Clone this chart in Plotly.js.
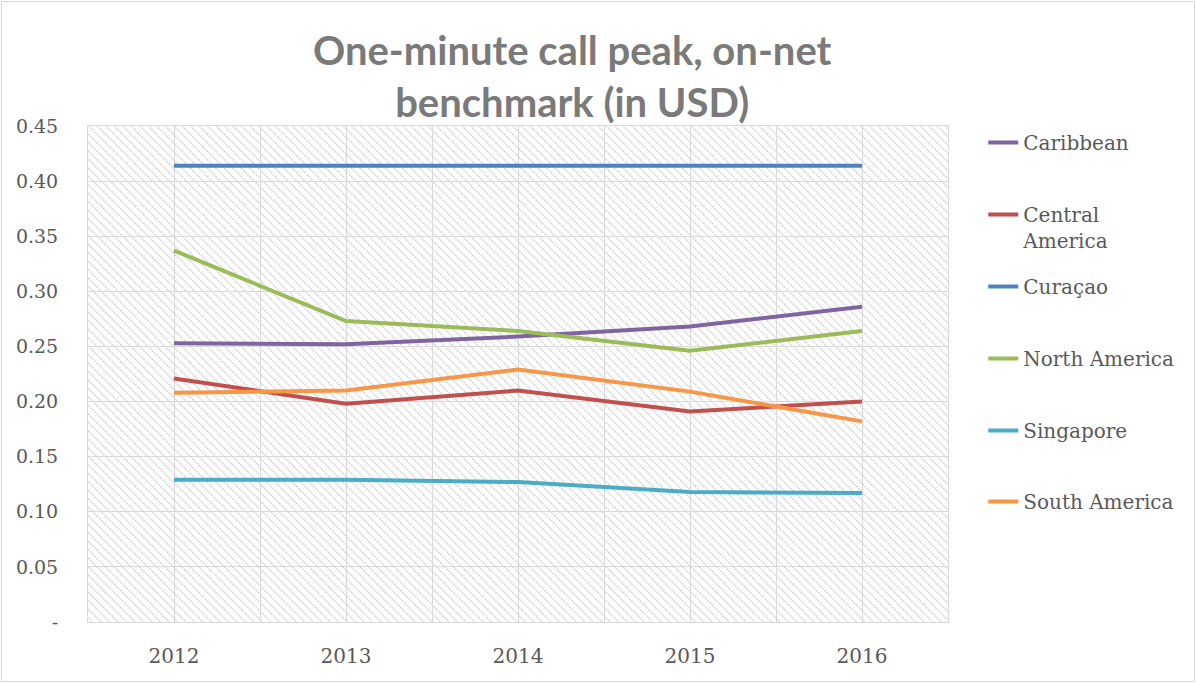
<!DOCTYPE html>
<html>
<head>
<meta charset="utf-8">
<script src="https://cdn.plot.ly/plotly-3.0.1.min.js"></script>
<style>
  body { margin: 0; background: #fff; }
  #chart { width: 1196px; height: 683px; }
  #frame { position: absolute; left: 1px; top: 1px; width: 1192px; height: 679px;
           border: 1px solid #d9d9d9; pointer-events: none; }
</style>
</head>
<body>
<div id="chart"></div>
<div id="frame"></div>
<script>
// Chart data
let years = [2012, 2013, 2014, 2015, 2016];
let caribbean = [0.253, 0.252, 0.259, 0.268, 0.286];
let centralAmerica = [0.221, 0.198, 0.210, 0.191, 0.200];
let curacao = [0.414, 0.414, 0.414, 0.414, 0.414];
let northAmerica = [0.337, 0.273, 0.264, 0.246, 0.264];
let singapore = [0.129, 0.129, 0.127, 0.118, 0.117];
let southAmerica = [0.208, 0.210, 0.229, 0.209, 0.182];

let seriesNames = ["Caribbean", "Central<br>America", "Curaçao", "North America", "Singapore", "South America"];
let seriesValues = [caribbean, centralAmerica, curacao, northAmerica, singapore, southAmerica];
let seriesColors = ["#8064A2", "#C0504D", "#4F81BD", "#9BBB59", "#4BACC6", "#F79646"];

let yTicks = [0, 0.05, 0.10, 0.15, 0.20, 0.25, 0.30, 0.35, 0.40, 0.45];
let yTickText = ["-", "0.05", "0.10", "0.15", "0.20", "0.25", "0.30", "0.35", "0.40", "0.45"];

// legend rows sit 72px apart, starting just under the plot top
let legendRowPx = 72;
let plotTop = 126, plotH = 496;

// Diagonal hatch for the plot background
let hatch = '<svg xmlns="http://www.w3.org/2000/svg" width="860" height="496">' +
  '<defs><pattern id="p" width="6" height="6" patternUnits="userSpaceOnUse" patternTransform="rotate(-45)">' +
  '<line x1="0" y1="0" x2="0" y2="6" stroke="#c4c4c4" stroke-width="2.4" stroke-dasharray="1.6,1.2"/></pattern></defs>' +
  '<rect width="860" height="496" fill="url(#p)"/></svg>';
let hatchUri = "data:image/svg+xml;charset=utf-8," + encodeURIComponent(hatch);

let data = [];
for (let i = 0; i < seriesNames.length; i++) {
  data.push({
    x: years,
    y: seriesValues[i],
    name: seriesNames[i],
    type: "scatter",
    mode: "lines",
    legend: i == 0 ? "legend" : "legend" + (i + 1),
    line: { color: seriesColors[i], width: 4 }
  });
}

let layout = {
  width: 1196,
  height: 683,
  margin: { l: 88, r: 248, t: plotTop, b: 61 },
  paper_bgcolor: "#ffffff",
  plot_bgcolor: "rgba(0,0,0,0)",
  font: { family: "DejaVu Serif", color: "#595959", size: 20 },
  title: {
    text: "One-minute call peak, on-net<br>benchmark (in USD)",
    font: { family: "Lato", size: 40, color: "#7a7a7a", weight: "bold" },
    xref: "paper",
    x: 0.563,
    xanchor: "center",
    yref: "container",
    y: 0.905,
    yanchor: "top"
  },
  xaxis: {
    range: [2011.5, 2016.5],
    tickvals: years,
    ticktext: years.map(String),
    showgrid: true,
    gridcolor: "#d9d9d9",
    minor: { tickvals: [2011.5, 2012.5, 2013.5, 2014.5, 2015.5, 2016.5], showgrid: true, gridcolor: "#d9d9d9", gridwidth: 1 },
    showline: true,
    linecolor: "#d9d9d9",
    mirror: true,
    zeroline: false,
    ticks: "",
    ticklabelstandoff: 16,
    tickfont: { size: 20 }
  },
  yaxis: {
    range: [0, 0.45],
    tickvals: yTicks,
    ticktext: yTickText,
    showgrid: true,
    gridcolor: "#d9d9d9",
    showline: true,
    linecolor: "#d9d9d9",
    mirror: true,
    zeroline: false,
    ticks: "",
    ticklabelstandoff: 25,
    tickfont: { size: 19 }
  },
  images: [{
    source: hatchUri,
    xref: "paper", yref: "paper",
    x: 0, y: 1, sizex: 1, sizey: 1,
    sizing: "stretch",
    layer: "below"
  }],
  showlegend: true
};

// one small legend per series so each row lands where the reference puts it
for (let i = 0; i < seriesNames.length; i++) {
  let rowCentre = 142 + i * legendRowPx - (i == 5 ? 1 : 0);
  let key = i == 0 ? "legend" : "legend" + (i + 1);
  layout[key] = {
    x: 1.041,
    xanchor: "left",
    y: (plotTop + plotH - (rowCentre - 19)) / plotH,
    yanchor: "top",
    valign: "top",
    font: { size: 20, color: "#595959" },
    bgcolor: "rgba(0,0,0,0)"
  };
}

Plotly.newPlot("chart", data, layout, { displayModeBar: false });
</script>
</body>
</html>
